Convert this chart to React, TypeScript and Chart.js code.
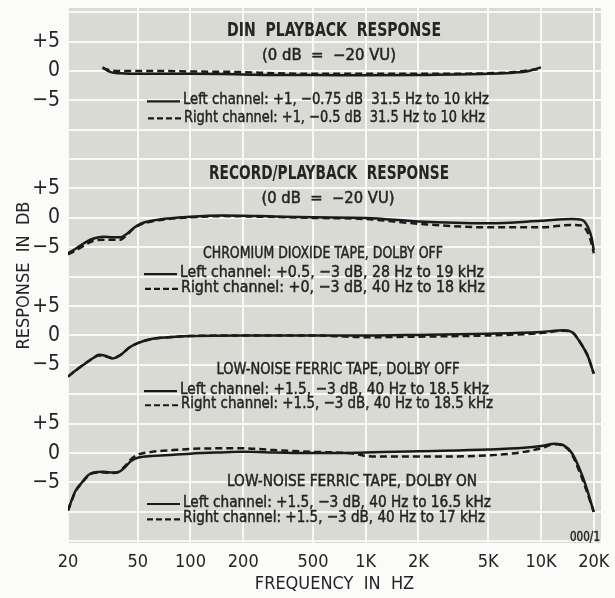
import React, { useEffect, useRef } from 'react';
import { Chart, registerables } from 'chart.js';

Chart.register(...registerables);

// ---------- axis ticks ----------
const FREQ_TICKS = [20, 50, 100, 200, 500, 1000, 2000, 5000, 10000, 20000];
const FREQ_TICK_LABELS = ['20', '50', '100', '200', '500', '1K', '2K', '5K', '10K', '20K'];
const DB_TICK_LABELS = ['+5', '0', '−5'];

// ---------- panel 1: DIN playback response ----------
const dinHz = [31.5, 35, 40, 50, 63, 80, 100, 200, 300, 500, 1000, 2000, 5000, 7000, 8500, 10000];
const dinLeftDb = [0.6, -0.2, -0.4, -0.5, -0.5, -0.5, -0.5, -0.6, -0.7, -0.7, -0.75, -0.7, -0.5, -0.3, 0, 0.6];
const dinRightDb = [0.5, 0.1, 0, 0, 0, -0.05, -0.1, -0.2, -0.4, -0.5, -0.5, -0.5, -0.4, -0.2, 0.1, 0.4];

// ---------- panel 2: CrO2 tape, Dolby off ----------
const cro2Hz = [20, 22, 25, 28, 32, 36, 40, 43, 47, 52, 60, 75, 100, 150, 250, 500, 1000, 2000, 5000, 10000, 15000, 17000, 18500, 19500, 20000];
const cro2LeftDb = [-6.0, -5.3, -4.2, -3.5, -3.2, -3.3, -3.3, -2.8, -1.8, -1.0, -0.5, -0.1, 0.2, 0.4, 0.3, 0.1, 0, -0.6, -0.9, -0.5, -0.2, -0.3, -1.5, -3.5, -5.5];
const cro2RightDb = [-6.2, -5.6, -4.6, -3.9, -3.7, -3.7, -3.7, -3.0, -1.9, -1.1, -0.6, -0.2, 0.1, 0.3, 0.2, 0.0, -0.2, -1.0, -1.6, -1.6, -1.2, -1.3, -2.5, -4.5, -6.0];

// ---------- panel 3: low-noise ferric tape, Dolby off ----------
const lnOffHz = [20, 22, 25, 28, 30, 33, 36, 40, 45, 50, 60, 75, 100, 200, 500, 800, 1000, 2000, 5000, 10000, 13500, 15000, 17000, 18500, 20000];
const lnOffLeftDb = [-7.0, -6.0, -4.8, -3.8, -3.3, -3.5, -3.9, -3.3, -2.0, -1.3, -0.6, -0.3, -0.1, 0, 0, 0, 0, 0.1, 0.3, 0.6, 0.9, 0.6, -1.5, -3.5, -6.5];
const lnOffRightDb = [-7.0, -6.0, -4.8, -3.8, -3.4, -3.6, -3.9, -3.3, -2.0, -1.3, -0.6, -0.3, -0.1, 0, 0, -0.2, -0.3, -0.2, 0, 0.4, 0.8, 0.6, -1.5, -3.5, -6.5];

// ---------- panel 4: low-noise ferric tape, Dolby on ----------
const lnOnHz = [20, 21, 22, 24, 26, 28, 32, 36, 39, 42, 46, 50, 60, 80, 100, 150, 200, 300, 500, 800, 900, 1000, 1500, 2000, 5000, 8000, 10000, 12000, 13500, 15000, 16500, 18000, 20000];
const lnOnLeftDb = [-9.7, -8.0, -6.5, -5.0, -3.8, -3.3, -3.2, -3.3, -3.2, -2.5, -1.3, -0.8, -0.5, -0.3, -0.1, 0.1, 0.2, 0.1, 0.0, 0.0, 0.05, 0.1, 0.2, 0.3, 0.6, 0.9, 1.2, 1.6, 1.3, 0, -2.5, -5.5, -10];
const lnOnRightDb = [-9.8, -8.1, -6.6, -5.1, -3.9, -3.4, -3.3, -3.4, -3.2, -2.3, -1.0, -0.3, 0.2, 0.5, 0.7, 0.8, 0.8, 0.5, 0.2, 0.0, -0.2, -0.5, -0.6, -0.6, -0.4, 0.2, 0.8, 1.5, 1.2, -0.2, -3.0, -6.0, -10];

// ---------- layout constants (not data) ----------
const PANEL_OFFSETS = [65, 40, 20, 0];
const FONT = "'Liberation Sans Narrow', 'DejaVu Sans Condensed', 'Roboto Condensed', 'Arial Narrow', 'Liberation Sans', sans-serif";
const INK = '#1a1a1a';
const TEXT = '#242424';
const PAPER = '#d9dad3';
const GRID = 'rgba(250,250,246,0.95)';

function series(hz: number[], db: number[], offset: number, dashed: boolean) {
  return {
    data: hz.map((f, i) => ({ x: f, y: db[i] + offset })),
    borderColor: INK,
    borderWidth: 2.5,
    borderDash: dashed ? [7, 4] : [],
    pointRadius: 0,
    cubicInterpolationMode: 'monotone' as const,
    fill: false,
  };
}

type Note = { text: string; x: number; panel: number; db: number; size: number; w: number; align: 'left' | 'center' | 'right'; sample?: 'solid' | 'dashed'; bold?: boolean };

const NOTES: Note[] = [
  { text: 'DIN  PLAYBACK  RESPONSE', x: 334, panel: 0, db: 6.8, size: 19, w: 214, align: 'center', bold: true },
  { text: '(0 dB  =  −20 VU)', x: 329, panel: 0, db: 2.5, size: 15, w: 134, align: 'center' },
  { text: 'Left channel: +1, −0.75 dB  31.5 Hz to 10 kHz', x: 183, panel: 0, db: -5.0, size: 16, w: 306, align: 'left', sample: 'solid' },
  { text: 'Right channel: +1, −0.5 dB  31.5 Hz to 10 kHz', x: 184, panel: 0, db: -7.9, size: 16, w: 301, align: 'left', sample: 'dashed' },

  { text: 'RECORD/PLAYBACK  RESPONSE', x: 329, panel: 1, db: 7.4, size: 19, w: 240, align: 'center', bold: true },
  { text: '(0 dB  =  −20 VU)', x: 328, panel: 1, db: 3.2, size: 15, w: 133, align: 'center' },
  { text: 'CHROMIUM DIOXIDE TAPE, DOLBY OFF', x: 323, panel: 1, db: -6.2, size: 16, w: 240, align: 'center' },
  { text: 'Left channel: +0.5, −3 dB, 28 Hz to 19 kHz', x: 180, panel: 1, db: -9.4, size: 16, w: 304, align: 'left', sample: 'solid' },
  { text: 'Right channel: +0, −3 dB, 40 Hz to 18 kHz', x: 181, panel: 1, db: -11.9, size: 16, w: 304, align: 'left', sample: 'dashed' },

  { text: 'LOW-NOISE FERRIC TAPE, DOLBY OFF', x: 338, panel: 2, db: -5.9, size: 16, w: 243, align: 'center' },
  { text: 'Left channel: +1.5, −3 dB, 40 Hz to 18.5 kHz', x: 180, panel: 2, db: -9.3, size: 16, w: 309, align: 'left', sample: 'solid' },
  { text: 'Right channel: +1.5, −3 dB, 40 Hz to 18.5 kHz', x: 181, panel: 2, db: -11.7, size: 16, w: 312, align: 'left', sample: 'dashed' },

  { text: 'LOW-NOISE FERRIC TAPE, DOLBY ON', x: 352, panel: 3, db: -4.9, size: 16, w: 250, align: 'center' },
  { text: 'Left channel: +1.5, −3 dB, 40 Hz to 16.5 kHz', x: 183, panel: 3, db: -8.5, size: 16, w: 308, align: 'left', sample: 'solid' },
  { text: 'Right channel: +1.5, −3 dB, 40 Hz to 17 kHz', x: 183, panel: 3, db: -11.1, size: 16, w: 302, align: 'left', sample: 'dashed' },
  { text: '000/1', x: 600, panel: 3, db: -14.3, size: 14, w: 30, align: 'right' },
];

const paperPlugin = {
  id: 'paper',
  beforeDraw(chart: any) {
    const { ctx, chartArea: a } = chart;
    ctx.save();
    ctx.fillStyle = PAPER;
    ctx.fillRect(a.left, a.top, a.right - a.left, a.bottom - a.top);
    ctx.restore();
  },
};

const notesPlugin = {
  id: 'notes',
  afterDatasetsDraw(chart: any) {
    const { ctx } = chart;
    const y = chart.scales.y;
    ctx.save();
    ctx.textBaseline = 'middle';
    for (const n of NOTES) {
      const py = y.getPixelForValue(PANEL_OFFSETS[n.panel] + n.db);
      ctx.font = `${n.bold ? 'bold ' : ''}${n.size}px ${FONT}`;
      const natural = ctx.measureText(n.text).width;
      const sx = Math.min(1.15, n.w / natural);
      ctx.save();
      ctx.translate(n.x, py);
      ctx.scale(sx, 1);
      ctx.fillStyle = TEXT;
      ctx.textAlign = n.align;
      ctx.fillText(n.text, 0, 0);
      if (!n.bold) {
        ctx.strokeStyle = TEXT;
        ctx.lineWidth = 0.45;
        ctx.strokeText(n.text, 0, 0);
      }
      ctx.restore();
      if (n.sample) {
        ctx.beginPath();
        ctx.strokeStyle = INK;
        ctx.lineWidth = 2.2;
        ctx.setLineDash(n.sample === 'dashed' ? [6, 3] : []);
        ctx.moveTo(n.x - 36, py + 1);
        ctx.lineTo(n.x - 3, py + 1);
        ctx.stroke();
        ctx.setLineDash([]);
      }
    }
    ctx.restore();
  },
};

function dbLabel(v: number): string {
  for (const off of PANEL_OFFSETS) {
    if (Math.abs(v - (off + 5)) < 1e-6) return DB_TICK_LABELS[0];
    if (Math.abs(v - off) < 1e-6) return DB_TICK_LABELS[1];
    if (Math.abs(v - (off - 5)) < 1e-6) return DB_TICK_LABELS[2];
  }
  return '';
}

export default function App() {
  const ref = useRef<HTMLCanvasElement | null>(null);

  useEffect(() => {
    if (!ref.current) return;
    const chart = new Chart(ref.current, {
      type: 'line',
      data: {
        datasets: [
          series(dinHz, dinLeftDb, PANEL_OFFSETS[0], false),
          series(dinHz, dinRightDb, PANEL_OFFSETS[0], true),
          series(cro2Hz, cro2LeftDb, PANEL_OFFSETS[1], false),
          series(cro2Hz, cro2RightDb, PANEL_OFFSETS[1], true),
          series(lnOffHz, lnOffLeftDb, PANEL_OFFSETS[2], false),
          series(lnOffHz, lnOffRightDb, PANEL_OFFSETS[2], true),
          series(lnOnHz, lnOnLeftDb, PANEL_OFFSETS[3], false),
          series(lnOnHz, lnOnRightDb, PANEL_OFFSETS[3], true),
        ],
      },
      options: {
        responsive: false,
        animation: false,
        events: [],
        layout: { padding: { left: 10, right: 14, top: 8, bottom: 1 } },
        plugins: { legend: { display: false }, tooltip: { enabled: false } },
        scales: {
          x: {
            type: 'logarithmic',
            min: 20,
            max: 22000,
            afterBuildTicks: (s: any) => {
              s.ticks = FREQ_TICKS.map((v) => ({ value: v }));
            },
            afterFit: (s: any) => {
              s.height = 54;
              s.paddingLeft = 0;
              s.paddingRight = 0;
            },
            grid: { color: GRID, lineWidth: 2, drawTicks: false },
            border: { display: false },
            ticks: {
              autoSkip: false,
              maxRotation: 0,
              padding: 9,
              color: TEXT,
              font: { family: FONT, size: 18 },
              callback: (v: any) => {
                const i = FREQ_TICKS.indexOf(Number(v));
                return i >= 0 ? FREQ_TICK_LABELS[i] : '';
              },
            },
            title: {
              display: true,
              text: 'FREQUENCY  IN  HZ',
              color: TEXT,
              font: { family: FONT, size: 18 },
              padding: { top: 0, bottom: 2 },
            },
          },
          y: {
            type: 'linear',
            min: -15.3,
            max: 75.7,
            afterBuildTicks: (s: any) => {
              const t = [];
              for (let v = -15; v <= 75; v += 5) t.push({ value: v });
              s.ticks = t;
            },
            afterFit: (s: any) => {
              s.width = 58;
              s.paddingTop = 0;
              s.paddingBottom = 0;
            },
            grid: { color: GRID, lineWidth: 2, drawTicks: false },
            border: { display: false },
            ticks: {
              autoSkip: false,
              padding: 8,
              color: TEXT,
              font: { family: FONT, size: 21 },
              callback: (v: any) => dbLabel(Number(v)),
            },
            title: {
              display: true,
              text: 'RESPONSE  IN  DB',
              color: TEXT,
              font: { family: FONT, size: 18 },
              padding: { top: 4, bottom: 0 },
            },
          },
        },
      },
      plugins: [paperPlugin, notesPlugin],
    } as any);
    return () => chart.destroy();
  }, []);

  return (
    <div style={{ position: 'fixed', left: 0, top: 0, width: 615, height: 598, background: '#fbfbf9' }}>
      <canvas ref={ref} width={615} height={598} style={{ display: 'block' }} />
    </div>
  );
}
